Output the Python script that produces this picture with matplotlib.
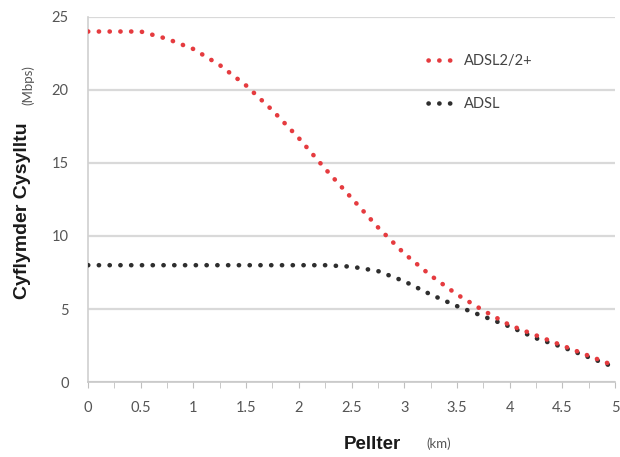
import matplotlib
matplotlib.use("Agg")
import matplotlib.pyplot as plt
import numpy as np

distance_km = [0, 0.25, 0.5, 0.75, 1.0, 1.25, 1.5, 1.75, 2.0, 2.25, 2.5,
               2.75, 3.0, 3.25, 3.5, 3.75, 4.0, 4.25, 4.5, 4.75, 5.0]
adsl2 = [24.0, 24.0, 24.0, 23.5, 22.8, 21.7, 20.3, 18.6, 16.7, 14.6, 12.6,
         10.6, 8.8, 7.3, 6.0, 4.9, 3.9, 3.2, 2.5, 1.8, 1.1]
adsl = [8.0, 8.0, 8.0, 8.0, 8.0, 8.0, 8.0, 8.0, 8.0, 8.0, 7.9,
        7.6, 6.9, 6.0, 5.2, 4.5, 3.8, 3.0, 2.4, 1.7, 1.0]
series_labels = ["ADSL2/2+", "ADSL"]
x_ticks = [0, 0.5, 1, 1.5, 2, 2.5, 3, 3.5, 4, 4.5, 5]
x_tick_labels = ["0", "0.5", "1", "1.5", "2", "2.5", "3", "3.5", "4", "4.5", "5"]
y_ticks = [0, 5, 10, 15, 20, 25]

plt.rcParams['font.family'] = ['Lato', 'DejaVu Sans']

fig = plt.figure(figsize=(6.2, 4.57), dpi=100)
ax = fig.add_axes([0.142, 0.164, 0.850, 0.799])

dot = (0, (0.05, 2.3))
ax.plot(distance_km, adsl, color='#2e2e2e', linewidth=3.3, linestyle=dot,
        dash_capstyle='round', label=series_labels[1], zorder=3)
ax.plot(distance_km, adsl2, color='#e53b3f', linewidth=3.3, linestyle=dot,
        dash_capstyle='round', label=series_labels[0], zorder=4)

ax.set_xlim(0, 5)
ax.set_ylim(0, 25)
ax.set_xticks(x_ticks)
ax.set_xticklabels(x_tick_labels)
ax.set_xticks(np.arange(0, 5.01, 0.25), minor=True)
ax.set_yticks(y_ticks)
ax.tick_params(axis='x', which='both', direction='out', length=4, color='#bfbfbf',
               labelsize=10.5, labelcolor='#555555', pad=10)
ax.tick_params(axis='y', length=0, labelsize=10.5, labelcolor='#555555', pad=14)

ax.yaxis.grid(True, color='#d9d9d9', linewidth=1.6)
ax.set_axisbelow(True)
for s in ['top', 'right']:
    ax.spines[s].set_visible(False)
ax.spines['left'].set_color('#d0d0d0')
ax.spines['bottom'].set_color('#c8c8c8')
ax.spines['left'].set_linewidth(1.2)
ax.spines['bottom'].set_linewidth(1.2)

handles, labels = ax.get_legend_handles_labels()
leg = ax.legend([handles[1], handles[0]], [labels[1], labels[0]],
                loc='upper left', bbox_to_anchor=(0.62, 0.935), frameon=False,
                handlelength=2.2, handletextpad=0.3, labelspacing=2.0,
                fontsize=10.5, labelcolor='#444444')

fig.text(0.037, 0.54, "Cyflymder Cysylltu", rotation=90, ha='center', va='center',
         fontsize=14, fontweight='bold', color='#1a1a1a',
         family=['Liberation Sans', 'DejaVu Sans'])
fig.text(0.045, 0.814, "(Mbps)", rotation=90, ha='center', va='center',
         fontsize=9.5, color='#555555')
fig.text(0.600, 0.028, "Pellter", ha='center', va='center',
         fontsize=13.5, fontweight='bold', color='#1a1a1a',
         family=['Liberation Sans', 'DejaVu Sans'])
fig.text(0.708, 0.030, "(km)", ha='center', va='center',
         fontsize=9.5, color='#555555')

fig.savefig("out.png", dpi=100)
